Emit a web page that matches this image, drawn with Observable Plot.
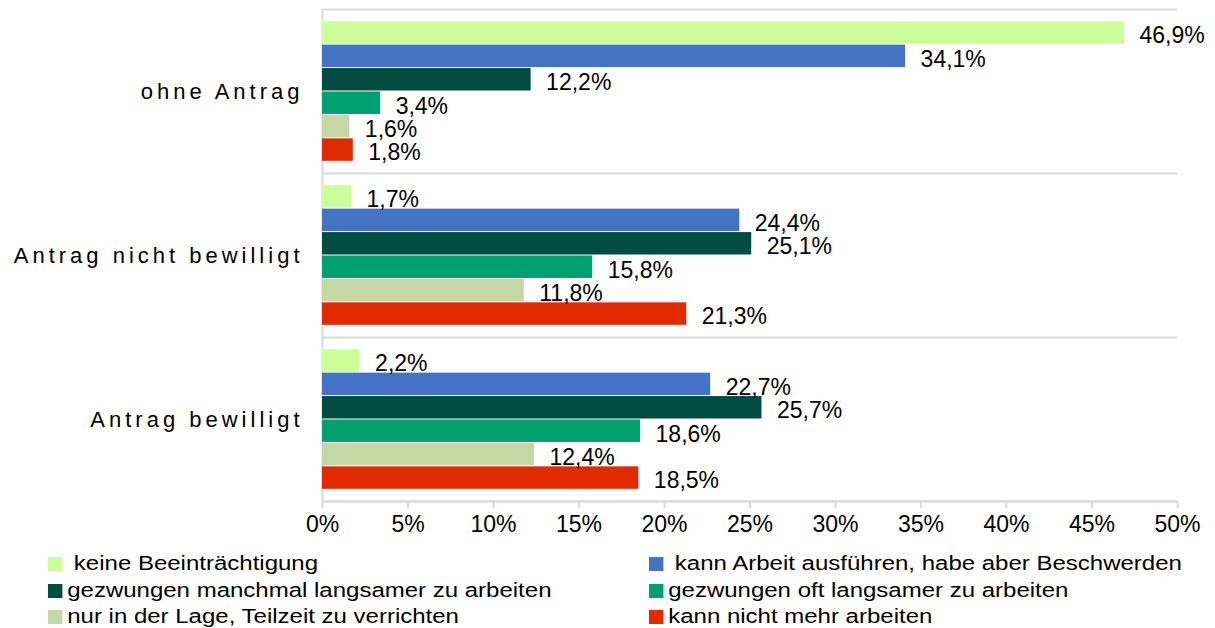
<!DOCTYPE html>
<html>
<head>
<meta charset="utf-8">
<script src="https://cdn.jsdelivr.net/npm/d3@7"></script>
<script src="https://cdn.jsdelivr.net/npm/@observablehq/plot@0.6"></script>
<style>
  html, body { margin: 0; padding: 0; background: #fff; }
  #wrap { position: relative; width: 1215px; height: 628px; font-family: "Liberation Sans", Arial, sans-serif; }
  .cat-label text { letter-spacing: 4px; }
  .legend-item { position: absolute; display: flex; align-items: center; font-size: 20px; color: #000; white-space: nowrap; transform-origin: left center; transform: scaleX(1.2); }
  .sw { width: 12px; height: 14px; display: inline-block; margin-right: 4px; }
</style>
</head>
<body>
<div id="wrap"></div>
<script>
const categories = ["ohne Antrag", "Antrag nicht bewilligt", "Antrag bewilligt"];
const series = [
  "keine Beeinträchtigung",
  "kann Arbeit ausführen, habe aber Beschwerden",
  "gezwungen manchmal langsamer zu arbeiten",
  "gezwungen oft langsamer zu arbeiten",
  "nur in der Lage, Teilzeit zu verrichten",
  "kann nicht mehr arbeiten"
];
const valuesOhneAntrag = [46.9, 34.1, 12.2, 3.4, 1.6, 1.8];
const valuesNichtBewilligt = [1.7, 24.4, 25.1, 15.8, 11.8, 21.3];
const valuesBewilligt = [2.2, 22.7, 25.7, 18.6, 12.4, 18.5];
const colors = ["#ccff99", "#4472c4", "#034c40", "#00a070", "#c5d7a5", "#e12a00"];
const xTicks = [0, 5, 10, 15, 20, 25, 30, 35, 40, 45, 50];

const allValues = [valuesOhneAntrag, valuesNichtBewilligt, valuesBewilligt];
const slots = series.length + 1; // 6 bars + half slot padding each side
const rows = [];
categories.forEach((c, ci) => {
  series.forEach((s, si) => {
    const y1 = ci * slots + 0.5 + si;
    rows.push({category: c, series: s, value: allValues[ci][si], y1, y2: y1 + 1, ym: y1 + 0.5});
  });
});
const catRows = categories.map((c, ci) => ({category: c, y: ci * slots + slots / 2}));
const boundaries = d3.range(0, categories.length + 1).map(i => i * slots);

const fmt = v => v.toFixed(1).replace(".", ",") + "%";

const chart = Plot.plot({
  width: 1215,
  height: 540,
  marginLeft: 322,
  marginRight: 38,
  marginTop: 9,
  marginBottom: 39,
  style: {fontFamily: "'Liberation Sans', Arial, sans-serif", fontSize: "23px", color: "#000", overflow: "visible"},
  x: {domain: [0, 50]},
  y: {domain: [0, categories.length * slots], reverse: true, axis: null},
  color: {domain: series, range: colors},
  marks: [
    Plot.ruleY(boundaries, {stroke: "#d9d9d9", strokeWidth: 2}),
    Plot.ruleX([0], {stroke: "#d9d9d9", strokeWidth: 2}),
    Plot.rect(rows, {x1: 0, x2: "value", y1: "y1", y2: "y2", fill: "series", insetTop: 0.5, insetBottom: 0.5}),
    Plot.text(rows, {x: "value", y: "ym", text: d => fmt(d.value), textAnchor: "start", dx: 15, dy: 3, fontSize: 23, fill: "#000"}),
    Plot.text(catRows, {x: 0, y: "y", text: "category", textAnchor: "end", dx: -19, fontSize: 22, fill: "#000", className: "cat-label"}),
    Plot.axisX({ticks: xTicks, tickFormat: d => d + "%", tickSize: 7, tickPadding: 7, stroke: "#d9d9d9", strokeWidth: 2, fontSize: 23, label: null}),
    Plot.ruleY([categories.length * slots], {stroke: "#d9d9d9", strokeWidth: 2})
  ]
});
const wrap = document.getElementById("wrap");
wrap.appendChild(chart);

// Legend (HTML, below the SVG)
const legendPos = [
  {left: 48, top: 552, gap: true},
  {left: 649, top: 552, gap: true},
  {left: 48, top: 579},
  {left: 649, top: 579},
  {left: 48, top: 605},
  {left: 649, top: 605}
];
series.forEach((s, i) => {
  const p = legendPos[i];
  const el = document.createElement("div");
  el.className = "legend-item";
  el.style.left = p.left + "px";
  el.style.top = p.top + "px";
  el.innerHTML = `<span class="sw" style="background:${colors[i]}"></span>${p.gap ? "&nbsp;" : ""}${s}`;
  wrap.appendChild(el);
});
</script>
</body>
</html>
